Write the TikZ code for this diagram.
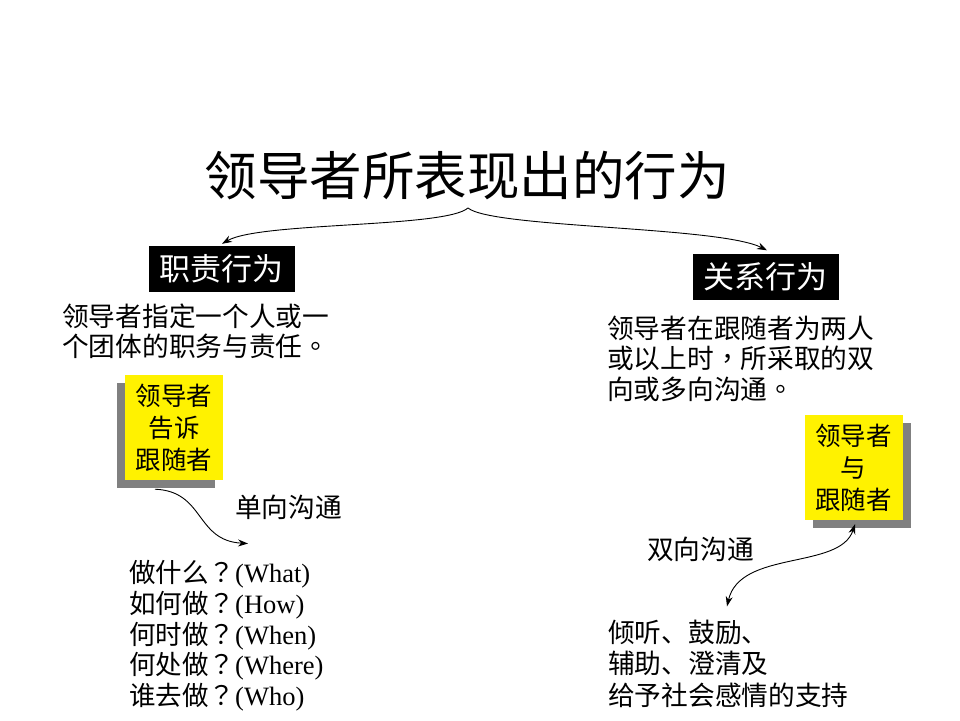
\documentclass[tikz,border=0pt]{standalone}
\usepackage{fontspec}
\setmainfont{Liberation Serif}
\newfontfamily\cjk{Noto Sans CJK SC}
\newfontfamily\cjktc{Noto Sans CJK TC}
\newcommand\tcp[1]{{\cjktc #1}}
\usetikzlibrary{arrows.meta,shadows,calc}
\tikzset{
  titletext/.style={inner sep=0pt, anchor=base, font=\cjk\fontsize{52.5}{60}\selectfont},
  txt/.style={inner sep=0pt, anchor=base west, font=\cjk\fontsize{26.7}{30}\selectfont},
  listtxt/.style={inner sep=0pt, anchor=base west, font=\fontsize{26.5}{30}\selectfont},
  blackbox/.style={fill=black, text=white, inner sep=0pt, minimum width=146pt, minimum height=46pt, font=\cjk\fontsize{31}{36}\selectfont},
  ybox/.style={fill=yellow, inner sep=0pt, minimum width=98pt, minimum height=105pt, align=center, font=\cjk\fontsize{25.5}{32}\selectfont},
  shadowL/.style={drop shadow={shadow xshift=-8pt, shadow yshift=-8pt, fill=black!50, opacity=1}},
  shadowR/.style={drop shadow={shadow xshift=8pt, shadow yshift=-8pt, fill=black!50, opacity=1}},
  conn/.style={line width=0.9pt, -{Stealth[length=10pt,width=7pt]}},
  conn2/.style={line width=0.9pt, {Stealth[length=10pt,width=7pt]}-{Stealth[length=10pt,width=7pt]}}
}
\begin{document}
\begin{tikzpicture}[x=1pt,y=-1pt]
\fill[white] (0,0) rectangle (960,720);
\useasboundingbox (0,0) rectangle (960,720);

\node[titletext] (title) at (467,195) {领导者所表现出的行为};
\coordinate (peak) at ($(title.base)+(1,13)$);

\node[blackbox] (bL) at (221.5,269) {职责行为};
\node[blackbox] (bR) at (765.5,276.5) {关系行为};

\draw[conn] (peak) .. controls +(-23,20) and +(38,-22) .. ($(bL.north)+(0.5,-2)$);
\draw[conn] (peak) .. controls +(24,20) and +(-48,-24) .. ($(bR.north)+(1.5,-3)$);

\node[txt] (dL1) at (62,326) {领导者指定一个人或一};
\node[txt] (dL2) at (62,356) {个团体的职务与责任\tcp{。}};

\node[txt] (dR1) at (607,338) {领导者在跟随者为两人};
\node[txt] (dR2) at (607,368) {或以上时\tcp{，}所采取的双};
\node[txt] (dR3) at (607,399) {向或多向沟通\tcp{。}};

\node[ybox, shadowL] (yL) at (174,427.5) {领导者\\告诉\\跟随者};
\node[ybox, shadowR] (yR) at (853.5,467.5) {领导者\\与\\跟随者};

\node[txt] (u1) at (235,517) {单向沟通};
\node[txt] (u2) at (647,559) {双向沟通};

\node[listtxt] (q1) at (129,582) {{\cjk 做什么}\tcp{？}(What)};
\node[listtxt] (q2) at (129,613) {{\cjk 如何做}\tcp{？}(How)};
\node[listtxt] (q3) at (129,644) {{\cjk 何时做}\tcp{？}(When)};
\node[listtxt] (q4) at (129,674) {{\cjk 何处做}\tcp{？}(Where)};
\node[listtxt] (q5) at (129,705) {{\cjk 谁去做}\tcp{？}(Who)};

\coordinate (lTip) at ($(q1.north west)+(119,-16)$);
\draw[conn] ($(yL.south)+(-19,9)$) .. controls +(50,2) and +(-53,-3) .. (lTip);

\node[txt] (b1) at (608,642) {倾听、鼓励、};
\node[txt] (b2) at (608,673) {辅助、澄清及};
\node[txt] (b3) at (608,705) {给予社会感情的支持};

\coordinate (rTip) at ($(b1.north west)+(119,-13)$);
\draw[conn2] ($(yR.south)+(1.5,4)$) .. controls +(-15,46) and +(13,-57) .. (rTip);
\end{tikzpicture}
\end{document}
